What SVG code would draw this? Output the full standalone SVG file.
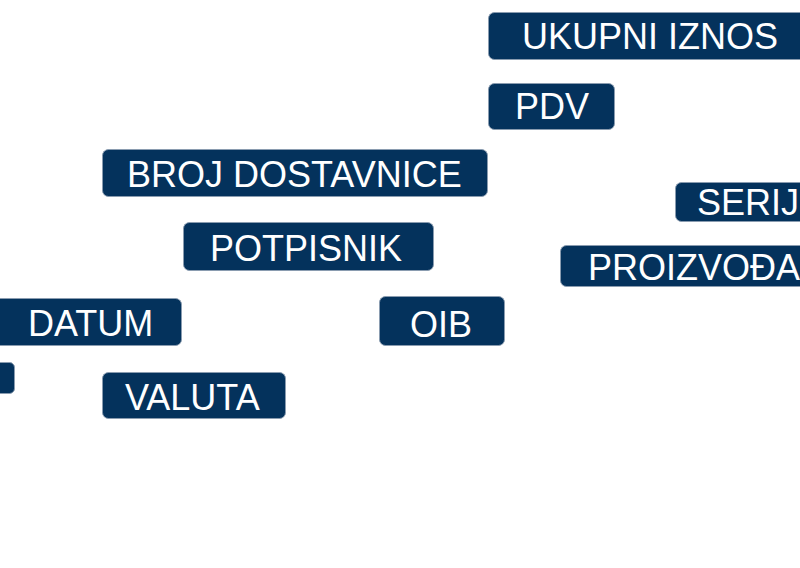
<svg xmlns="http://www.w3.org/2000/svg" width="800" height="568" viewBox="0 0 800 568">
<style>
.box{fill:#04325C;stroke:#8A9CB0;stroke-width:1}
.lbl{font-family:"Liberation Sans",Arial,sans-serif;font-size:36px;fill:#FFFFFF}
</style>
<rect width="800" height="568" fill="#FFFFFF"/>
<g id="ukupni-iznos"><rect class="box" x="488.5" y="12.5" width="340" height="47" rx="6"/><text class="lbl" x="522" y="49">UKUPNI IZNOS</text></g>
<g id="pdv"><rect class="box" x="488.5" y="83.5" width="126" height="46" rx="6"/><text class="lbl" x="515" y="119">PDV</text></g>
<g id="broj-dostavnice"><rect class="box" x="102.5" y="149.5" width="385" height="47" rx="6"/><text class="lbl" x="127" y="187">BROJ DOSTAVNICE</text></g>
<g id="potpisnik"><rect class="box" x="183.5" y="222.5" width="250" height="48" rx="6"/><text class="lbl" x="210" y="261">POTPISNIK</text></g>
<g id="serij"><rect class="box" x="675.5" y="182.5" width="150" height="39" rx="6"/><text class="lbl" x="697" y="215">SERIJ</text></g>
<g id="proizvodja"><rect class="box" x="560.5" y="245.5" width="260" height="41" rx="6"/><text class="lbl" x="588" y="280">PROIZVOĐA</text></g>
<g id="datum"><rect class="box" x="-10.5" y="298.5" width="192" height="47" rx="6"/><text class="lbl" x="28" y="336">DATUM</text></g>
<g id="oib"><rect class="box" x="379.5" y="296.5" width="125" height="49" rx="6"/><text class="lbl" x="410" y="337">OIB</text></g>
<g id="small"><rect class="box" x="-10.5" y="362.5" width="25" height="31" rx="5"/></g>
<g id="valuta"><rect class="box" x="102.5" y="372.5" width="183" height="46" rx="6"/><text class="lbl" x="125" y="410">VALUTA</text></g>
<g id="connectors"/>
</svg>
